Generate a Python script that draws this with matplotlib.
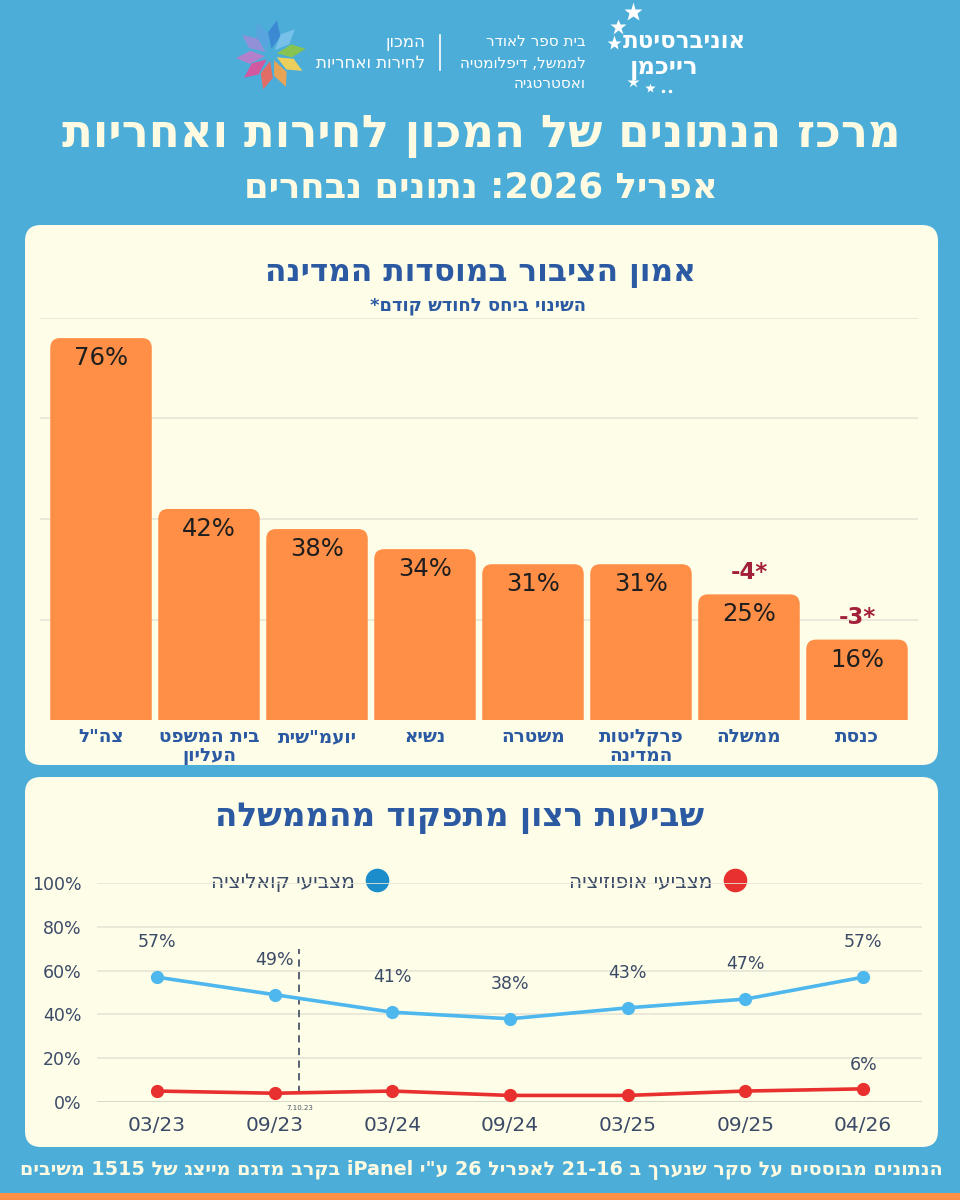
import re
import numpy as np
import matplotlib
matplotlib.use("Agg")
import matplotlib.pyplot as plt
from matplotlib.patches import FancyBboxPatch, Polygon, Rectangle

# ---------------- data ----------------
categories = ["צה\"ל", "בית המשפט\nהעליון", "יועמ\"שית", "נשיא", "משטרה",
              "פרקליטות\nהמדינה", "ממשלה", "כנסת"]
trust_values = [76, 42, 38, 34, 31, 31, 25, 16]
trust_changes = [None, None, None, None, None, None, -4, -3]

periods = ["03/23", "09/23", "03/24", "09/24", "03/25", "09/25", "04/26"]
coalition = [57, 49, 41, 38, 43, 47, 57]
opposition = [5, 4, 5, 3, 3, 5, 6]
opposition_labelled = [False, False, False, False, False, False, True]
line_yticks = [0, 20, 40, 60, 80, 100]
bar_grid = [20, 40, 60, 80]
event_label = "7.10.23"
event_pos = 1.21
event_range = [4, 70]

title_main = "מרכז הנתונים של המכון לחירות ואחריות"
title_sub = "אפריל 2026: נתונים נבחרים"
bar_title = "אמון הציבור במוסדות המדינה"
bar_note = "השינוי ביחס לחודש קודם*"
line_title = "שביעות רצון מתפקוד מהממשלה"
legend_coal = "מצביעי קואליציה"
legend_opp = "מצביעי אופוזיציה"
footer = "הנתונים מבוססים על סקר שנערך ב 21-16 לאפריל 26 ע\"י iPanel בקרב מדגם מייצג של 1515 משיבים"
uni_lines = ["אוניברסיטת", "רייכמן"]
school_lines = ["בית ספר לאודר", "לממשל, דיפלומטיה", "ואסטרטגיה"]
inst_lines = ["המכון", "לחירות ואחריות"]


def vis(s):
    """logical RTL string -> visual order (keeps latin / number runs LTR)"""
    out = []
    for line in s.split("\n"):
        toks = re.findall(r"[A-Za-z0-9]+(?:[.\-/][A-Za-z0-9]+)*%?|.", line)
        out.append("".join(reversed(toks)))
    return "\n".join(out)


# ---------------- style ----------------
BG = "#4BADD8"
CREAM = "#FEFDE8"
CREAM_TXT = "#FFFBE2"
ORANGE = "#FF8F47"
BLUE_TXT = "#2B5AA3"
DARK = "#3B4A67"
DELTA = "#A3203A"
LINE_BLUE = "#4DB7EE"
DOT_BLUE = "#1C8DCB"
RED = "#E8302F"
GRID = "#E6E6D6"

plt.rcParams["font.family"] = ["DejaVu Sans"]

fig = plt.figure(figsize=(9.6, 12), dpi=100, facecolor=BG)

bg = fig.add_axes([0, 0, 1, 1])
bg.set_xlim(0, 960)
bg.set_ylim(1200, 0)
bg.axis("off")
bg.set_zorder(0)

# panels
for (x0, y0, w, h) in [(25, 225, 913, 540), (25, 777, 913, 370)]:
    bg.add_patch(FancyBboxPatch((x0, y0), w, h,
                                boxstyle="round,pad=0,rounding_size=16",
                                fc=CREAM, ec="none"))
bg.add_patch(Rectangle((0, 1193), 960, 7, fc=ORANGE, ec="none"))

# ---------------- header ----------------
# flower logo
cx, cy = 271, 55
petal_cols = ["#3A86D2", "#7CC3EC", "#8DC641", "#FFD24F", "#F9A448",
              "#F2685A", "#E2509A", "#C07CCB", "#9A8ED8", "#5BA4E0"]
petal_angles = [95, 62, 25, -12, -50, -88, -125, -160, 160, 128]
for ang, col in zip(petal_angles, petal_cols):
    a = np.deg2rad(ang)
    u = np.array([np.cos(a), -np.sin(a)])
    n = np.array([-u[1], u[0]])
    c = np.array([cx, cy])
    pts = [c + u * 6 + n * 1,
           c + u * 18 + n * 11,
           c + u * 34 + n * 9,
           c + u * 23 - n * 1]
    bg.add_patch(Polygon(pts, closed=True, fc=col, ec="none", alpha=0.9))

for i, t in enumerate(inst_lines):
    bg.text(425, 42 + i * 21, vis(t), ha="right", va="center",
            fontsize=12, color="white")
bg.plot([440, 440], [35, 70], color="white", lw=1.2)
for i, t in enumerate(school_lines):
    bg.text(586, 42 + i * 21, vis(t), ha="right", va="center",
            fontsize=11, color="white")
bg.text(746, 42, vis(uni_lines[0]), ha="right", va="center",
        fontsize=16.5, fontweight="bold", color="white")
bg.text(630, 68, vis(uni_lines[1]), ha="left", va="center",
        fontsize=17.5, fontweight="bold", color="white")
for (sx, sy, ms) in [(633, 12, 14), (618, 27, 12), (614, 43, 11),
                     (633, 82, 9), (650, 88, 7)]:
    bg.plot(sx, sy, marker="*", ms=ms, color="white", mec="none")
for sx in [663, 670]:
    bg.plot(sx, 91, marker="o", ms=2.5, color="white", mec="none")

bg.text(481, 137, vis(title_main), ha="center", va="center",
        fontsize=32.5, fontweight="bold", color=CREAM_TXT)
bg.text(481, 188, vis(title_sub), ha="center", va="center",
        fontsize=25.5, fontweight="bold", color=CREAM_TXT)

# ---------------- bar panel ----------------
bg.text(480, 273, vis(bar_title), ha="center", va="center",
        fontsize=22.5, fontweight="bold", color=BLUE_TXT)
bg.text(478, 306, vis(bar_note), ha="center", va="center",
        fontsize=13, fontweight="bold", color=BLUE_TXT)

ax1 = fig.add_axes([40 / 960, 480 / 1200, 878 / 960, 402 / 1200])
ax1.set_zorder(1)
ax1.patch.set_alpha(0)
ax1.set_xlim(-0.565, 7.565)
ax1.set_ylim(0, 80)
for s in ax1.spines.values():
    s.set_visible(False)
ax1.set_xticks([])
ax1.set_yticks([])
for g in bar_grid:
    ax1.axhline(g, color=GRID, lw=1.2, zorder=0)

bw = 0.94
for i, (v, c) in enumerate(zip(trust_values, trust_changes)):
    p = FancyBboxPatch((i - bw / 2, -10), bw, v + 10,
                       boxstyle="round,pad=0,rounding_size=0.09",
                       mutation_aspect=22.0, fc=ORANGE, ec="none", zorder=2)
    ax1.add_patch(p)
    ax1.text(i, v - 4.0, f"{v}%", ha="center", va="center",
             fontsize=17.5, color="#1E1E1E", zorder=3)
    if c is not None:
        ax1.text(i, v + 4.3, f"{c}*", ha="center", va="center",
                 fontsize=16.5, fontweight="bold", color=DELTA, zorder=3)
    ax1.text(i, -1.6, vis(categories[i]), ha="center", va="top",
             fontsize=13.3, fontweight="bold", color=BLUE_TXT,
             linespacing=1.05, clip_on=False)

# ---------------- line panel ----------------
bg.text(460, 818, vis(line_title), ha="center", va="center",
        fontsize=23.5, fontweight="bold", color=BLUE_TXT)

bg.plot(377, 880, marker="o", ms=17, color=DOT_BLUE, mec="none")
bg.text(355, 882, vis(legend_coal), ha="right", va="center",
        fontsize=14.5, color=DARK)
bg.plot(735, 880, marker="o", ms=17, color=RED, mec="none")
bg.text(712, 882, vis(legend_opp), ha="right", va="center",
        fontsize=14.5, color=DARK)

ax2 = fig.add_axes([97 / 960, 98 / 1200, 825 / 960, 219 / 1200])
ax2.set_zorder(1)
ax2.patch.set_alpha(0)
ax2.set_xlim(-0.51, 6.50)
ax2.set_ylim(0, 100)
for s in ax2.spines.values():
    s.set_visible(False)
for g in line_yticks:
    ax2.axhline(g, color=("#D2D2C4" if g == 0 else GRID), lw=1.2, zorder=0)
ax2.set_yticks(line_yticks, [f"{t}%" for t in line_yticks])
ax2.set_xticks(range(len(periods)), periods)
ax2.tick_params(axis="y", length=0, pad=11, labelsize=12.5, labelcolor=DARK)
ax2.tick_params(axis="x", length=0, pad=10, labelsize=14.5, labelcolor=DARK)

x = np.arange(len(periods))
ax2.plot(x, coalition, color=LINE_BLUE, lw=2.6, marker="o", ms=8.5,
         zorder=3, clip_on=False)
ax2.plot(x, opposition, color=RED, lw=2.6, marker="o", ms=8.5,
         zorder=3, clip_on=False)
for xi, v in zip(x, coalition):
    ax2.annotate(f"{v}%", (xi, v), xytext=(0, 25), textcoords="offset points",
                 ha="center", va="center", fontsize=12.5, color=DARK)
for xi, v, lab in zip(x, opposition, opposition_labelled):
    if lab:
        ax2.annotate(f"{v}%", (xi, v), xytext=(0, 17),
                     textcoords="offset points",
                     ha="center", va="center", fontsize=12.5, color=DARK)

ax2.plot([event_pos, event_pos], event_range, color="#4A5568", lw=1.3,
         ls=(0, (4, 3)), zorder=2)
ax2.text(event_pos, -1.5, event_label, ha="center", va="top", fontsize=5,
         color="#4A5568")

# ---------------- footer ----------------
bg.text(481, 1170, vis(footer), ha="center", va="center",
        fontsize=13.8, fontweight="bold", color=CREAM_TXT)

fig.savefig("out.png", dpi=100, facecolor=BG)
